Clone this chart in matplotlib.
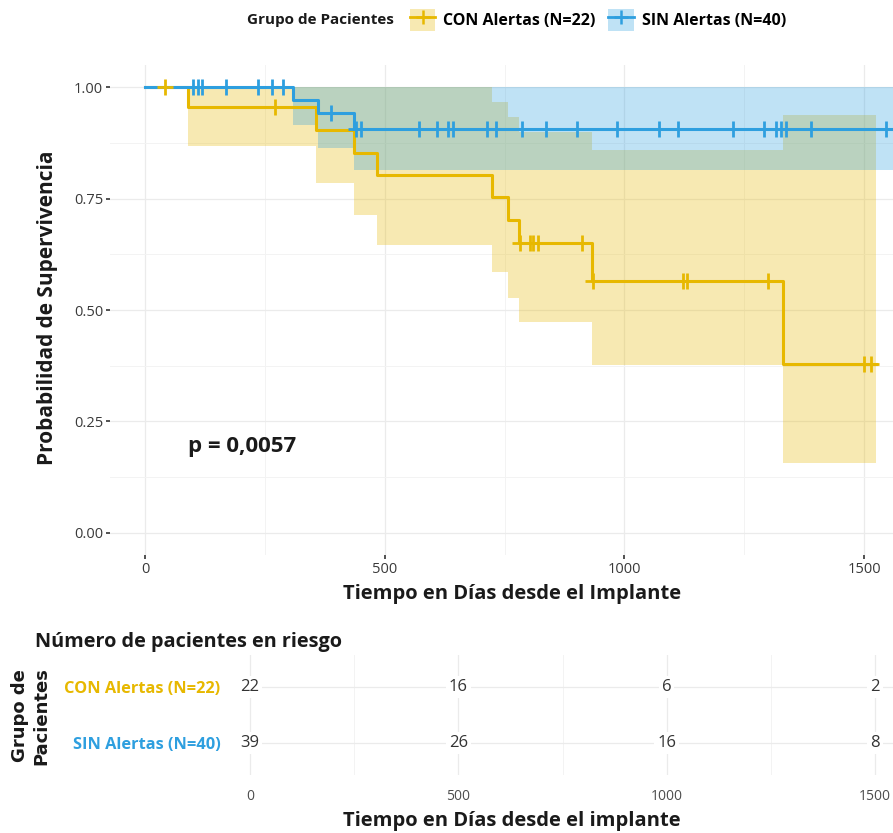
import numpy as np
import matplotlib
matplotlib.use("Agg")
import matplotlib.pyplot as plt
from matplotlib.patches import Patch
from matplotlib.lines import Line2D

plt.rcParams['font.family'] = ['Open Sans', 'DejaVu Sans']

# --- data ---
con_times = [0, 90, 356, 435, 483, 724, 758, 781, 933, 1330]
con_surv = [1.0, 0.955, 0.905, 0.853, 0.803, 0.754, 0.702, 0.650, 0.566, 0.379]
con_upper = [1.0, 1.0, 1.0, 1.0, 1.0, 0.967, 0.933, 0.900, 0.859, 0.937]
con_lower = [1.0, 0.868, 0.785, 0.713, 0.646, 0.586, 0.527, 0.474, 0.377, 0.157]
con_end = 1525
con_censor = [42, 271, 783, 803, 809, 820, 912, 935, 1121, 1131, 1300, 1500, 1515]

sin_times = [0, 308, 360, 435]
sin_surv = [1.0, 0.971, 0.942, 0.906]
sin_upper = [1.0, 1.0, 1.0, 1.0]
sin_lower = [1.0, 0.915, 0.863, 0.814]
sin_end = 1650
sin_censor = [100, 110, 119, 169, 235, 264, 287, 387, 441, 451, 571, 608, 631, 642,
              714, 733, 787, 837, 902, 985, 1071, 1111, 1226, 1292, 1315, 1327,
              1337, 1390, 1546]

groups = ["CON Alertas (N=22)", "SIN Alertas (N=40)"]
colors = ["#E7B800", "#2E9FDF"]

risk_times = [0, 500, 1000, 1500]
risk_con = [22, 16, 6, 2]
risk_sin = [39, 26, 16, 8]

p_text = "p = 0,0057"

W, H = 893, 833
fig = plt.figure(figsize=(W / 100, H / 100), dpi=100)


def fx(px):
    return px / W


def fy(py):
    return 1 - py / H


# --- main survival plot ---
ax = fig.add_axes([fx(110), fy(555), fx(893 - 110), (555 - 65) / H])
ax.set_xlim(-73, 1560)
ax.set_ylim(-0.05, 1.05)

series = [
    (con_times, con_surv, con_lower, con_upper, con_end, con_censor),
    (sin_times, sin_surv, sin_lower, sin_upper, sin_end, sin_censor),
]
for (t, s, lo, up, end, cens), col in zip(series, colors):
    tt = list(t) + [end]
    ll = list(lo) + [lo[-1]]
    uu = list(up) + [up[-1]]
    ax.fill_between(tt, ll, uu, step="post", color=col, alpha=0.3, lw=0, zorder=2)
for (t, s, lo, up, end, cens), col in zip(series, colors):
    tt = list(t) + [end]
    ss = list(s) + [s[-1]]
    ax.step(tt, ss, where="post", color=col, lw=2.2, zorder=3)
    idx = np.searchsorted(t, cens, side="right") - 1
    cy = np.array(s)[idx]
    ax.plot(cens, cy, ls="none", marker="+", color=col, ms=11, mew=2, zorder=4)

ax.set_xticks([0, 500, 1000, 1500])
ax.set_xticks([250, 750, 1250], minor=True)
ax.set_yticks([0, 0.25, 0.5, 0.75, 1.0])
ax.set_yticklabels(["0.00", "0.25", "0.50", "0.75", "1.00"])
ax.set_yticks([0.125, 0.375, 0.625, 0.875], minor=True)
ax.grid(which="major", color="#EBEBEB", lw=0.9)
ax.grid(which="minor", color="#F3F3F3", lw=0.7)
ax.set_axisbelow(True)
for sp in ax.spines.values():
    sp.set_visible(False)
ax.tick_params(which="major", length=3, width=1.2, color="#333333",
               labelsize=10.5, labelcolor="#3a3a3a", pad=2)
ax.tick_params(which="minor", length=0)

ax.text(90, 0.193, p_text, fontsize=16, fontweight="bold", ha="left",
        va="center", color="#1a1a1a")

fig.text(fx(48), fy(308), "Probabilidad de Supervivencia", rotation=90,
         fontsize=15, fontweight="bold", ha="center", va="center", color="#1a1a1a")
fig.text(fx(512), fy(594), "Tiempo en Días desde el Implante",
         fontsize=14.5, fontweight="bold", ha="center", va="center", color="#1a1a1a")

# --- legend on top ---
fig.text(fx(247), fy(20), "Grupo de Pacientes", fontsize=11, fontweight="bold",
         ha="left", va="center", color="#1a1a1a")
handles = []
for col in colors:
    handles.append((Patch(facecolor=col, alpha=0.3, edgecolor="none"),
                    Line2D([], [], color=col, lw=2, marker="+", ms=10, mew=1.8)))
fig.legend(handles, groups, ncol=2, frameon=False, loc="center",
           bbox_to_anchor=(fx(598), fy(20)), handlelength=1.6,
           handleheight=1.7, columnspacing=0.8, handletextpad=0.5,
           prop={"weight": "bold", "size": 11.5})

# --- risk table ---
tab = fig.add_axes([fx(240), fy(775), fx(893 - 240), 120 / H])
tab.set_xlim(-24, 1543)
tab.set_ylim(0.43, 2.57)
for x, a, b in zip(risk_times, risk_con, risk_sin):
    for yv, val in [(2, a), (1, b)]:
        tab.text(x, yv, str(val), ha="center", va="center", fontsize=12,
                 color="#333333",
                 bbox=dict(facecolor="white", edgecolor="none", pad=2))
tab.set_xticks(risk_times)
tab.set_xticks([250, 750, 1250], minor=True)
tab.set_yticks([2, 1])
tab.set_yticklabels(groups)
for lab, col in zip(tab.get_yticklabels(), colors):
    lab.set_color(col)
    lab.set_fontweight("bold")
    lab.set_fontsize(11.8)
tab.grid(which="major", color="#EBEBEB", lw=0.9)
tab.grid(which="minor", axis="x", color="#F3F3F3", lw=0.7)
tab.set_axisbelow(True)
for sp in tab.spines.values():
    sp.set_visible(False)
tab.tick_params(axis="x", length=0, labelsize=10, labelcolor="#4D4D4D", pad=10)
tab.tick_params(axis="y", length=0, pad=14)
tab.tick_params(which="minor", length=0)

fig.text(fx(35), fy(642), "Número de pacientes en riesgo", fontsize=14.3,
         fontweight="bold", ha="left", va="center", color="#1a1a1a")
fig.text(fx(31), fy(716), "Grupo de\nPacientes", rotation=90, fontsize=13,
         fontweight="bold", ha="center", va="center", linespacing=1.25,
         family="DejaVu Sans", color="#1a1a1a")
fig.text(fx(512), fy(821), "Tiempo en Días desde el implante", fontsize=14.5,
         fontweight="bold", ha="center", va="center", color="#1a1a1a")

fig.savefig("out.png", dpi=100)
